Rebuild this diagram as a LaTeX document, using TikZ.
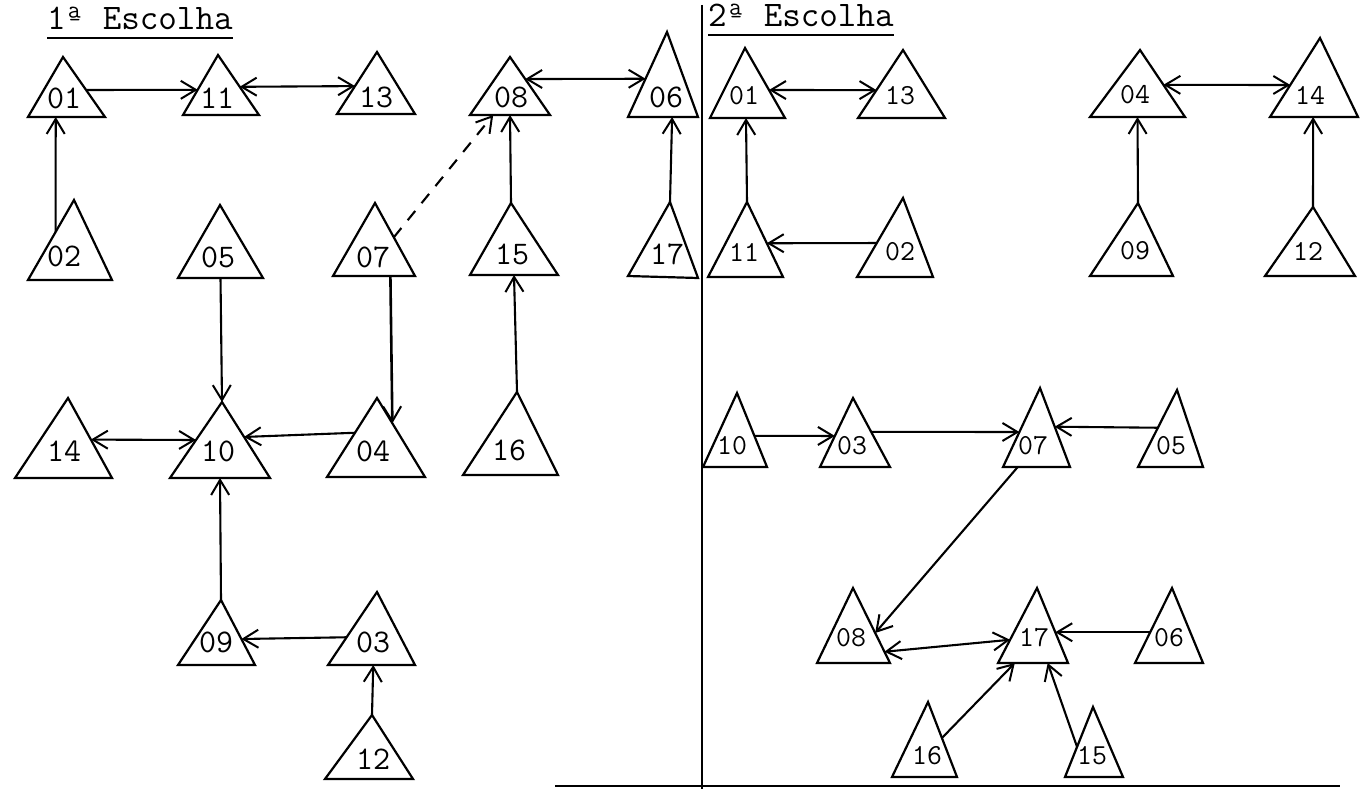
\documentclass[tikz,border=0pt]{standalone}
\usepackage{fontspec}
\usetikzlibrary{arrows.meta,calc}

% one triangle: name, apex, left base corner, right base corner, label position, label, label style
\newcommand\tri[7]{%
  \coordinate (#1-a) at (#2);
  \coordinate (#1-l) at (#3);
  \coordinate (#1-r) at (#4);
  \draw[triline] (#1-a) -- (#1-l) -- (#1-r) -- cycle;
  \node[#7] (#1) at (#5) {#6};
}

\begin{document}
\begin{tikzpicture}[x=1pt,y=-1pt,
  triline/.style={line width=2.2pt,line join=miter},
  lblL/.style={inner sep=0pt,font=\ttfamily\fontsize{33}{33}\selectfont},
  lblR/.style={inner sep=0pt,font=\ttfamily\fontsize{29}{29}\selectfont},
  head/.style={inner sep=0pt,anchor=base west,font=\ttfamily\fontsize{36}{36}\selectfont},
  tip/.tip={Straight Barb[length=15pt,width=18pt,line width=2pt]},
  link/.style={line width=2.1pt,-tip},
  both/.style={line width=2.1pt,tip-tip},
  guess/.style={link,dash pattern=on 12pt off 10pt}]
\useasboundingbox (0,0) rectangle (1364,789);

% headings
\node[head] (h1) at (47,30) {1ª Escolha};
\node[head] (h2) at (708,27) {2ª Escolha};
\draw[line width=1.8pt] ([yshift=-8pt]h1.base west) -- ([yshift=-8pt]h1.base east);
\draw[line width=1.8pt] ([yshift=-8pt]h2.base west) -- ([yshift=-8pt]h2.base east);

% dividing rules
\draw[line width=2.8pt] (702,5) -- (702,789);
\draw[line width=1.6pt] (555,786) -- (1340,786);

% ---- first choice ----
\tri{L01}{63,57}{28,117}{105,117}{64,98}{01}{lblL}
\tri{L11}{218,55}{183,115}{259,115}{217,98}{11}{lblL}
\tri{L13}{377,52}{337,114}{415,114}{376,97}{13}{lblL}
\tri{L08}{510,57}{470,115}{550,115}{511,97}{08}{lblL}
\tri{L06}{667,32}{628,117}{698,117}{666,97}{06}{lblL}
\tri{L02}{74,200}{28,280}{112,280}{64,256}{02}{lblL}
\tri{L05}{220,205}{178,278}{263,278}{218,257}{05}{lblL}
\tri{L07}{375,203}{333,276}{415,276}{373,257}{07}{lblL}
\tri{L15}{511,203}{470,275}{558,275}{512,254}{15}{lblL}
\tri{L17}{670,202}{628,276}{698,278}{667,254}{17}{lblL}
\tri{L14}{68,398}{15,478}{112,478}{64,451}{14}{lblL}
\tri{L10}{222,402}{170,478}{270,478}{218,451}{10}{lblL}
\tri{L04}{377,398}{327,477}{425,477}{373,451}{04}{lblL}
\tri{L16}{517,392}{463,475}{558,475}{509,450}{16}{lblL}
\tri{L09}{221,600}{178,665}{255,665}{216,642}{09}{lblL}
\tri{L03}{377,592}{328,665}{415,665}{373,642}{03}{lblL}
\tri{L12}{372,715}{325,779}{413,779}{373,759}{12}{lblL}

\draw[link] ($(L01-a)!.55!(L01-r)$) -- ($(L11-a)!.58!(L11-l)$);
\draw[both] ($(L11-a)!.53!(L11-r)$) -- ($(L13-a)!.55!(L13-l)$);
\draw[link] ($(L02-a)!.4!(L02-l)$) -- ($(L01-l)!.36!(L01-r)$);
\draw[both] ($(L08-a)!.38!(L08-r)$) -- ($(L06-a)!.55!(L06-l)$);
\draw[guess] ($(L07-a)!.47!(L07-r)$) -- ($(L08-l)!.29!(L08-r)$);
\draw[link] (L15-a) -- ($(L08-l)!.5!(L08-r)$);
\draw[link] (L17-a) -- ($(L06-l)!.63!(L06-r)$);
\draw[link] ($(L05-l)!.5!(L05-r)$) -- (L10-a);
\draw[link,line width=2.6pt] ($(L07-l)!.7!(L07-r)$) -- ($(L04-a)!.32!(L04-r)$);
\draw[both] ($(L14-a)!.52!(L14-r)$) -- ($(L10-a)!.5!(L10-l)$);
\draw[link] ($(L04-a)!.44!(L04-l)$) -- ($(L10-a)!.46!(L10-r)$);
\draw[link] (L09-a) -- ($(L10-l)!.5!(L10-r)$);
\draw[link] ($(L03-a)!.62!(L03-l)$) -- ($(L09-a)!.6!(L09-r)$);
\draw[link] (L12-a) -- ($(L03-l)!.52!(L03-r)$);
\draw[link] (L16-a) -- ($(L15-l)!.5!(L15-r)$);

% ---- second choice ----
\tri{R01}{745,48}{710,118}{785,118}{744,96}{01}{lblR}
\tri{R13}{903,50}{858,118}{945,118}{900,96}{13}{lblR}
\tri{R11}{747,202}{708,277}{783,277}{744,252}{11}{lblR}
\tri{R02}{903,198}{857,277}{933,277}{900,252}{02}{lblR}
\tri{R04}{1140,50}{1090,117}{1185,117}{1135,95}{04}{lblR}
\tri{R14}{1320,38}{1270,117}{1358,117}{1310,95}{14}{lblR}
\tri{R09}{1138,203}{1090,276}{1173,276}{1135,251}{09}{lblR}
\tri{R12}{1313,207}{1265,276}{1355,276}{1308,251}{12}{lblR}
\tri{R10}{737,393}{703,467}{767,467}{732,446}{10}{lblR}
\tri{R03}{853,398}{820,467}{890,467}{852,446}{03}{lblR}
\tri{R07}{1040,388}{1003,467}{1070,467}{1033,446}{07}{lblR}
\tri{R05}{1177,390}{1138,467}{1203,467}{1171,446}{05}{lblR}
\tri{R08}{853,588}{817,663}{890,663}{851,638}{08}{lblR}
\tri{R17}{1037,588}{998,663}{1068,663}{1034,638}{17}{lblR}
\tri{R06}{1172,588}{1135,663}{1203,663}{1169,638}{06}{lblR}
\tri{R16}{928,702}{892,777}{957,777}{927,756}{16}{lblR}
\tri{R15}{1093,707}{1065,777}{1123,777}{1092,756}{15}{lblR}

\draw[both] ($(R01-a)!.6!(R01-r)$) -- ($(R13-a)!.59!(R13-l)$);
\draw[link] (R11-a) -- ($(R01-l)!.48!(R01-r)$);
\draw[link] ($(R02-a)!.57!(R02-l)$) -- ($(R11-a)!.55!(R11-r)$);
\draw[both] ($(R04-a)!.52!(R04-r)$) -- ($(R14-a)!.595!(R14-l)$);
\draw[link] (R09-a) -- ($(R04-l)!.5!(R04-r)$);
\draw[link] (R12-a) -- ($(R14-l)!.49!(R14-r)$);
\draw[link] ($(R10-a)!.58!(R10-r)$) -- ($(R03-a)!.55!(R03-l)$);
\draw[link] ($(R03-a)!.49!(R03-r)$) -- ($(R07-a)!.557!(R07-l)$);
\draw[link] ($(R05-a)!.49!(R05-l)$) -- ($(R07-a)!.49!(R07-r)$);
\draw[link] ($(R07-l)!.22!(R07-r)$) -- ($(R08-a)!.6!(R08-r)$);
\draw[both] ($(R08-a)!.85!(R08-r)$) -- ($(R17-a)!.69!(R17-l)$);
\draw[link] ($(R06-a)!.59!(R06-l)$) -- ($(R17-a)!.59!(R17-r)$);
\draw[link] ($(R16-a)!.48!(R16-r)$) -- ($(R17-l)!.24!(R17-r)$);
\draw[link] ($(R15-a)!.57!(R15-l)$) -- ($(R17-l)!.71!(R17-r)$);
\end{tikzpicture}
\end{document}
